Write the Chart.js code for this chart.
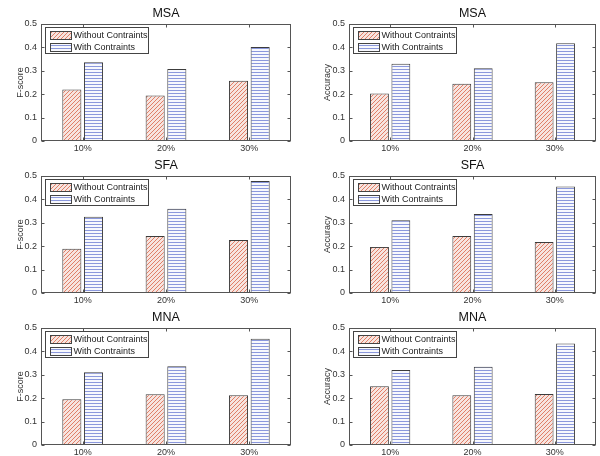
<!DOCTYPE html>
<html>
<head>
<meta charset="utf-8">
<script src="https://cdn.jsdelivr.net/npm/chart.js@4.4.1/dist/chart.umd.min.js"></script>
<style>
  body { margin: 0; background: #fff; width: 600px; height: 456px; overflow: hidden; position: relative; }
  canvas { position: absolute; }
</style>
</head>
<body>
<canvas id="c0" width="300" height="152" style="left:0;top:0"></canvas>
<canvas id="c1" width="300" height="152" style="left:300px;top:0"></canvas>
<canvas id="c2" width="300" height="152" style="left:0;top:152px"></canvas>
<canvas id="c3" width="300" height="152" style="left:300px;top:152px"></canvas>
<canvas id="c4" width="300" height="152" style="left:0;top:304px"></canvas>
<canvas id="c5" width="300" height="152" style="left:300px;top:304px"></canvas>
<script>
// categories and series
const categories = ['10%', '20%', '30%'];
const seriesNames = ['Without Contraints', 'With Contraints'];
const titles = ['MSA', 'MSA', 'SFA', 'SFA', 'MNA', 'MNA'];
const yLabels = ['F-score', 'Accuracy', 'F-score', 'Accuracy', 'F-score', 'Accuracy'];
const yMin = 0, yMax = 0.5, yStep = 0.1;

// values
const msaFscoreWithout = [0.220, 0.194, 0.257];
const msaFscoreWith    = [0.337, 0.308, 0.402];
const msaAccWithout    = [0.203, 0.245, 0.251];
const msaAccWith       = [0.330, 0.311, 0.418];
const sfaFscoreWithout = [0.189, 0.244, 0.227];
const sfaFscoreWith    = [0.326, 0.360, 0.479];
const sfaAccWithout    = [0.197, 0.244, 0.218];
const sfaAccWith       = [0.311, 0.338, 0.455];
const mnaFscoreWithout = [0.196, 0.217, 0.213];
const mnaFscoreWith    = [0.311, 0.337, 0.454];
const mnaAccWithout    = [0.251, 0.213, 0.218];
const mnaAccWith       = [0.321, 0.334, 0.434];

const withoutSets = [msaFscoreWithout, msaAccWithout, sfaFscoreWithout, sfaAccWithout, mnaFscoreWithout, mnaAccWithout];
const withSets = [msaFscoreWith, msaAccWith, sfaFscoreWith, sfaAccWith, mnaFscoreWith, mnaAccWith];

const FONT = "'Liberation Sans', Arial, sans-serif";

// hatch patterns (diagonal red, horizontal blue), drawn pixel by pixel so they stay crisp
function redHatch(ctx) {
  const c = document.createElement('canvas');
  c.width = 4; c.height = 4;
  const g = c.getContext('2d');
  g.fillStyle = '#f7e4df';
  g.fillRect(0, 0, 4, 4);
  g.fillStyle = '#e07f68';
  for (let i = 0; i < 4; i++) g.fillRect(i, 3 - i, 1, 1);
  return ctx.createPattern(c, 'repeat');
}

function blueLines(ctx) {
  const c = document.createElement('canvas');
  c.width = 4; c.height = 3;
  const g = c.getContext('2d');
  g.fillStyle = '#f7f8fd';
  g.fillRect(0, 0, 4, 3);
  g.fillStyle = '#8b98dc';
  g.fillRect(0, 0, 4, 1);
  return ctx.createPattern(c, 'repeat');
}

// box, inward ticks, title and legend
const frame = {
  id: 'frame',
  afterDraw(chart, args, opts) {
    const { ctx, chartArea: a, scales: { x, y } } = chart;
    const L = Math.round(a.left) + 0.5, R = Math.round(a.right) - 0.5;
    const T = Math.round(a.top) + 0.5, B = Math.round(a.bottom) - 0.5;
    ctx.save();
    ctx.strokeStyle = '#555';
    ctx.lineWidth = 1;
    ctx.strokeRect(L, T, R - L, B - T);
    ctx.beginPath();
    y.ticks.forEach(t => {
      const py = Math.round(y.getPixelForValue(t.value)) + 0.5;
      ctx.moveTo(L, py); ctx.lineTo(L + 3, py);
      ctx.moveTo(R, py); ctx.lineTo(R - 3, py);
    });
    categories.forEach((c, i) => {
      const px = Math.round(x.getPixelForValue(i)) + 0.5;
      ctx.moveTo(px, B); ctx.lineTo(px, B - 3);
      ctx.moveTo(px, T); ctx.lineTo(px, T + 3);
    });
    ctx.stroke();

    // title
    ctx.fillStyle = '#111';
    ctx.font = '12.5px ' + FONT;
    ctx.textAlign = 'center';
    ctx.textBaseline = 'middle';
    ctx.fillText(opts.title, (a.left + a.right) / 2, 13.5);

    // legend inside the axes
    const lx = Math.round(a.left) + 4.5, ly = Math.round(a.top) + 3.5;
    ctx.fillStyle = '#fff';
    ctx.fillRect(lx, ly, 103, 26);
    ctx.strokeStyle = '#444';
    ctx.strokeRect(lx, ly, 103, 26);
    ctx.font = '9px ' + FONT;
    ctx.textAlign = 'left';
    chart.data.datasets.forEach((ds, i) => {
      const sy = ly + 4 + i * 12;
      ctx.fillStyle = ds.backgroundColor;
      ctx.fillRect(lx + 5, sy, 21, 8);
      ctx.strokeStyle = '#444';
      ctx.strokeRect(lx + 5, sy, 21, 8);
      ctx.fillStyle = '#222';
      ctx.fillText(ds.label, lx + 28, sy + 4.5);
    });
    ctx.restore();
  }
};

function makeChart(idx) {
  const canvas = document.getElementById('c' + idx);
  const ctx = canvas.getContext('2d');
  const right = idx % 2 === 1;
  new Chart(canvas, {
    type: 'bar',
    data: {
      labels: categories,
      datasets: [
        { label: seriesNames[0], data: withoutSets[idx], backgroundColor: redHatch(ctx), borderColor: '#3c3c3c', borderWidth: 1, borderSkipped: false },
        { label: seriesNames[1], data: withSets[idx], backgroundColor: blueLines(ctx), borderColor: '#3c3c3c', borderWidth: 1, borderSkipped: false }
      ]
    },
    options: {
      responsive: false,
      animation: false,
      events: [],
      datasets: { bar: { categoryPercentage: 0.52, barPercentage: 0.88 } },
      layout: { padding: { top: 24, right: right ? 4 : 9, left: 0, bottom: 0 } },
      plugins: {
        legend: { display: false },
        tooltip: { enabled: false },
        title: { display: false },
        frame: { title: titles[idx] }
      },
      scales: {
        x: {
          grid: { display: false, drawTicks: false },
          border: { display: false },
          ticks: { padding: 2, color: '#333', font: { size: 9, family: FONT } },
          afterFit: s => { s.height = 11; }
        },
        y: {
          min: yMin,
          max: yMax,
          grid: { display: false, drawTicks: false },
          border: { display: false },
          ticks: { stepSize: yStep, padding: 4, color: '#333', font: { size: 9, family: FONT } },
          title: { display: true, text: yLabels[idx], color: '#333', font: { size: 9, family: FONT }, padding: { top: right ? 22 : 15, bottom: 0 } },
          afterFit: s => { s.width = right ? 49 : 41; }
        }
      }
    },
    plugins: [frame]
  });
}

for (let i = 0; i < 6; i++) makeChart(i);
</script>
</body>
</html>
